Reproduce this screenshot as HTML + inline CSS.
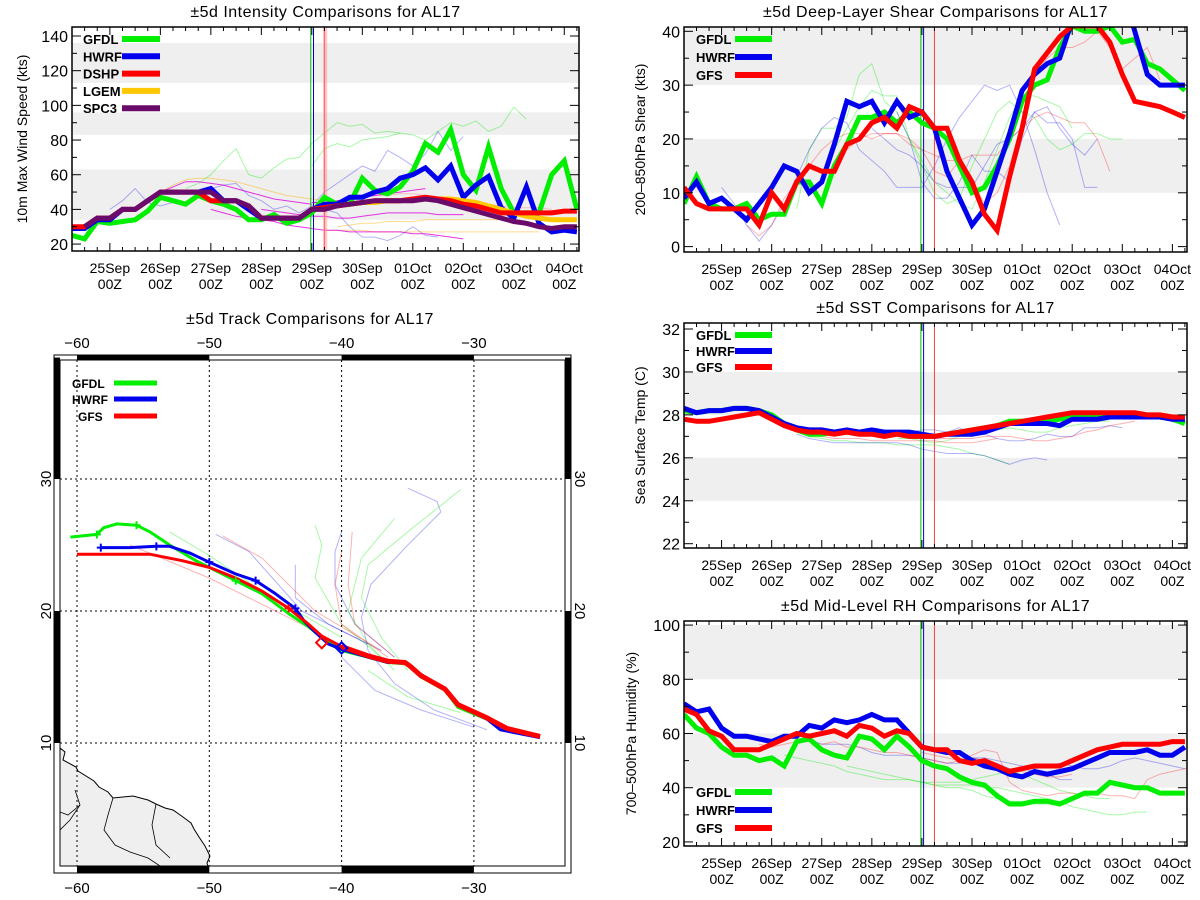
<!DOCTYPE html>
<html><head><meta charset="utf-8"><style>
html,body{margin:0;padding:0;background:#fff;}
svg{display:block;font-family:"Liberation Sans",sans-serif;}
</style></head><body>
<svg id="s" width="1200" height="900" viewBox="0 0 1200 900" xmlns="http://www.w3.org/2000/svg"></svg>
<script>
// ---------- data (6-hourly, first point at t=-18h relative to 25Sep 00Z) ----------
const dayLabels = ["25Sep","26Sep","27Sep","28Sep","29Sep","30Sep","01Oct","02Oct","03Oct","04Oct"];
const intGFDL = [25,23,33,32,33,34,39,47,45,43,48,45,43,40,34,34,37,32,34,38,47,43,43,58,51,49,53,62,78,73,86,60,51,76,52,38,38,38,60,68,40];
const intHWRF = [29,29,34,34,40,40,45,50,50,50,50,52,45,45,40,35,35,35,35,40,43,43,47,47,50,52,58,60,64,57,65,47,54,59,41,35,53,32,27,28,27];
const intDSHP = [30,30,35,35,40,40,45,50,50,50,50,45,45,45,42,35,35,35,35,40,41,42,43,44,45,45,45,46,47,46,45,43,42,40,38,38,38,38,38,39,39];
const intLGEM = [null,null,null,null,null,null,null,null,null,null,null,null,null,null,null,null,null,null,null,40,41,42,43,44,44,45,45,46,46,46,46,45,44,42,40,38,36,35,34,34,34];
const intSPC3 = [null,30,35,35,40,40,45,50,50,50,50,50,45,45,42,35,35,35,35,40,40,42,43,44,45,45,45,45,46,45,43,41,39,37,35,33,32,30,29,30,30];
const shrGFDL = [8,13,8,7,7,8,5,6,6,12,12,8,15,19,24,24,25,23,25,23,22,20,15,10,11,15,20,27,30,31,37,41,40,40,41,38,38.5,34,33,31,29];
const shrHWRF = [9,12,8,9,7,5,8,11,15,14,10,12,19,27,26,27,23,27,24,25,22,14,9,4,7,14,21,29,32,34,35,42,45,45,45,48,40,32,30,30,30];
const shrGFS  = [11,8,7,7,7,7,4,10,7,12,15,14,14,19,20,23,24,22,26,25,22,22,16,12,6,3,13,22,33,36,39,41,41,41,38,32,27,26.5,26,25,24];
const sstGFDL = [28.2,28.1,28.2,28.2,28.3,28.3,28.2,28.0,27.6,27.3,27.1,27.1,27.2,27.2,27.1,27.2,27.1,27.1,27.0,27.0,27.0,27.1,27.2,27.3,27.4,27.5,27.7,27.7,27.7,27.7,27.8,27.9,27.9,27.9,27.9,28.0,28.0,28.0,27.9,27.8,27.6];
const sstHWRF = [28.3,28.1,28.2,28.2,28.3,28.3,28.2,27.9,27.6,27.4,27.3,27.3,27.2,27.3,27.2,27.3,27.2,27.2,27.2,27.1,27.0,27.1,27.1,27.1,27.2,27.4,27.6,27.6,27.6,27.6,27.5,27.8,27.8,27.8,27.9,27.9,27.9,27.9,27.9,27.8,27.8];
const sstGFS  = [27.8,27.7,27.7,27.8,27.9,28.0,28.1,27.8,27.5,27.3,27.2,27.2,27.1,27.2,27.1,27.1,27.0,27.1,27.0,27.0,27.0,27.1,27.2,27.3,27.4,27.5,27.6,27.7,27.8,27.9,28.0,28.1,28.1,28.1,28.1,28.1,28.1,28.0,28.0,27.9,27.9];
const rhGFDL = [67,62,60,55,52,52,50,51,48,57,58,54,52,51,59,58,54,59,55,50,48,47,44,42,41,37,34,34,35,35,34,36,38,38,42,41,40,40,38,38,38];
const rhHWRF = [71,68,69,62,59,59,58,57,59,59,63,62,65,64,65,67,65,65,60,55,54,53,53,50,48,47,45,44,46,45,46,47,49,51,53,53,53,54,52,52,55];
const rhGFS  = [69,67,61,59,54,54,54,56,58,60,59,60,61,59,63,62,59,61,60,55,54,54,50,49,50,48,46,47,48,48,48,50,52,54,55,56,56,56,56,57,57];
// faint earlier-cycle forecasts: [start hour, values...]
const intFaintGreen = [[36,52,55,60,68,75,60,58,64,69,70,78,84,90,88,89,84,85,84],[96,65,75,78,76,80,81,82,84,83,80,85,90,88,91,85,88,99,92]];
const intFaintBlue = [[0,40,45,52,44,42,44,43,50,52,54,55,48,45,40,42,38,42,50,55,60,65,62,74,70,65,72,85,74,82],[102,40,38,30,24,24,22,25,30,25,24]];
const intFaintMagenta = [[24,50,53,56,56,55,54,52,50,48,46,45,44,43],[48,40,38,36,35,34,33,31,30,29,28,28,27,27,27,27,27,26,26,25,24,23],[96,44,44,45,46,47,48,49,50,51,52],[72,40,39,38,37,36,36,35,35,36,37,38,38,38,38,37,37,37]];
const intFaintOrange = [[24,50,54,57,58,58,57,56,54,52,50,48,47,46,45],[108,30,31,32,32,33,33,33,34,34,34,34,34,34,34],[102,28,28,28,28,27,27,27,27,27,27,27,27,27,27,27,27,27,27]];
const intFaintPink = [[96,44,44,45,46,47,48,48,49,49,48,47,46,45,44,43,42,41,41,41,40]];
const shrFaintGreen = [[36,7,18,22,22,24,32,34,27,25,20,16,12,10,8,7,12,18,24,28,28,27,26,22],[48,12,18,22,26,29,28,28,20,15,10,8,9,15,20,25,27,25,24,20,18,19,21,21,20,20]];
const shrFaintBlue = [[0,11,8,4,1,4,8,13,18,22,24,23,18,16,14,11,11,11,15,20,24,27,30,29,30,25,18,10,4],[72,22,20,18,17,15,12,11,11,11,15,19,20,22,25,23,23,20,11,11],[84,25,20,12,9,9,12,17,14,14,12,20,25,26,22,19,17,20]];
const shrFaintRed = [[12,4,2,4,9,12,15,18,20,21,21,20,21,21,20,18,14,13,16,17,17,17,20,22,24,25,24,23,23,20,14],[60,18,20,21,21,21,19,18,17,16,16,12,8,10,15,23,32,35,37,37,38,40,37,33,35,37,31]];
const sstFaintGreen = [[24,28.1,27.7,27.3,27.0,26.9,26.8,26.8,26.7,26.7,26.7,26.6,26.6,26.6,26.6,26.5,26.4,26.2,26.1,25.9,25.7],[84,26.9,26.9,26.8,26.7,26.8,27.0,27.2,27.4,27.3,27.4,27.3,27.2,27.2,27.4,27.5,27.6,27.7,27.7]];
const sstFaintBlue = [[36,27.1,26.9,26.8,26.7,26.7,26.7,26.7,26.7,26.7,26.6,26.4,26.3,26.2,26.2,26.2,26.1,25.9,25.7,25.9,26.0,25.9],[90,27.2,27.3,27.3,27.2,27.4,27.1,27.1,26.9,26.8,26.8,26.9,27.1,27.0,27.0,27.4,27.4,27.5,27.4]];
const sstFaintRed = [[36,27.2,27.1,27.0,26.9,26.9,26.9,26.8,26.8,26.8,26.8,26.8,26.8,26.7,26.7,26.7,26.8,26.9],[102,26.9,26.9,26.9,26.9,27.0,27.0,27.0,26.9,26.8,26.8,26.9,27.0,27.2,27.3,27.5,27.6,27.7]];
const rhFaintGreen = [[30,52,51,50,49,48,46,45,44,43,43,43,42,41,40,40,39,37,36,35,35,34,34],[60,48,47,46,45,44,43,42,41,41,41,41,40,40,39,38,37,36,35,33,32,31,30,30,31,31],[96,42,42,42,42,43,44,45,46,45,43,41,39,38,37,36,36]];
const rhFaintBlue = [[36,60,58,56,56,56,55,53,52,52,52,51,50,49,49,51,50,49,47,47,46,45,43,43],[114,50,51,51,50,49,48,47,48,49,48,47,47,48,50,51,50,49,48,47]];
const rhFaintRed = [[18,56,55,56,57,57,56,57,55,55,54,53,53,52,51,50,49,50,51,50,48,47,46,45,44,44,45],[96,53,52,51,50,52,54,53,42,39,38,37,38,38,37,38,37,37,36,43,45,46,47,48,49,49,48]];
// tracks (lon, lat)
const trkGFSLon  = [-60,-54.5,-52,-50,-48,-46,-44,-42.5,-41.5,-40,-38,-36.5,-35.2,-34.8,-34,-32.2,-31.2,-29,-27.5,-25];
const trkGFSLat  = [24.3,24.3,23.8,23.3,22.5,21.5,20.2,19,18.1,17.3,16.6,16.2,16.1,15.8,15.1,14.1,12.9,11.9,11.1,10.5];
const trkGFDLLon = [-60.5,-58.5,-58,-57,-55.5,-54.5,-53,-51,-48,-46,-44,-42.5,-41.5,-40,-38,-36.5,-35.2,-34.8,-34,-32.2,-31.2,-29,-27.5,-25];
const trkGFDLLat = [25.6,25.8,26.3,26.6,26.5,26,25,23.8,22.3,21.3,19.8,18.8,18,17,16.5,16.1,16.0,15.8,15,14,12.7,11.8,11.1,10.5];
const trkHWRFLon = [-58.2,-56,-54,-53,-51.5,-50,-48,-46.5,-45,-43.5,-42.8,-42,-41,-40,-38,-36.5,-35.2,-34.8,-34,-32.2,-31.2,-29,-28,-25];
const trkHWRFLat = [24.8,24.8,24.9,24.9,24.4,23.7,22.8,22.3,21.3,20.2,19.2,18.4,17.5,17.1,16.5,16.1,16.1,15.8,15.2,14.1,12.9,11.8,11.0,10.4];
const trkFaintBlue = [[[-29,11],[-33,12.5],[-36,14.5],[-38,17],[-38.5,19.5],[-37.8,22],[-35,25],[-32.5,27.5],[-32.8,28.3],[-35,29.3]],[[-36,16.5],[-39,19],[-40.5,22],[-40.5,24.5],[-40,26]],[[-37,17],[-41,19],[-43.5,21],[-43.5,23.5]],[[-38,17.5],[-43,20],[-47,24.5],[-49.5,25.8]],[[-30,11.2],[-34,12.5],[-37.5,14],[-40,16.5]]];
const trkFaintGreen = [[[-35,15.5],[-37,18],[-38.5,21],[-38,23.5],[-35,26],[-31,29.2]],[[-36,15.5],[-38,17.5],[-39.5,20],[-38.5,24],[-36,27]],[[-37,16.5],[-40,19],[-42,22.5],[-41.5,25],[-42,26.5]],[[-40,18],[-46,21.5],[-50,24.2],[-53,26]],[[-31,12.3],[-35,13.5],[-38,15.5]]];
const trkFaintRed = [[[-36,16.5],[-39,19],[-39.5,22],[-39.2,26]],[[-36.5,16.5],[-40,19],[-40.5,22],[-40,24.5]],[[-37,17],[-42,20],[-46,24],[-49,25.7]],[[-42,18.5],[-50,22.5],[-56,25]]];

// ---------- helpers ----------
const NS="http://www.w3.org/2000/svg";
const svg=document.getElementById('s');
function mk(tag,attrs,parent){const e=document.createElementNS(NS,tag);for(const k in attrs)e.setAttribute(k,attrs[k]);(parent||svg).appendChild(e);return e;}
function txt(x,y,s,size,anchor,parent,extra){const e=mk('text',Object.assign({x:x,y:y,'font-size':size,'text-anchor':anchor||'middle',fill:'#000'},extra||{}),parent);e.textContent=s;return e;}
const T0=-18, TSTEP=6, XMIN=-18, XMAX=223;

function panel(cfg){
  const g=mk('g',{});
  
  
  const xs=t=>cfg.x0+(t-XMIN)/(XMAX-XMIN)*(cfg.x1-cfg.x0);
  const ys=v=>cfg.y1-(v-cfg.ymin)/(cfg.ymax-cfg.ymin)*(cfg.y1-cfg.y0);
  const clip='clip-'+cfg.name;
  const cp=mk('clipPath',{id:clip},g);mk('rect',{x:cfg.x0,y:cfg.y0,width:cfg.x1-cfg.x0,height:cfg.y1-cfg.y0},cp);
  cfg.bands.forEach(b=>{const r=mk('rect',{x:cfg.x0,y:ys(b[1]),width:cfg.x1-cfg.x0,height:ys(b[0])-ys(b[1]),fill:'#efefef'},g);
    });
  const pg=mk('g',{'clip-path':'url(#'+clip+')'},g);
  function series(vals,start,color,w,op,name){
    let d='';let pen=false;
    vals.forEach((v,i)=>{if(v==null){pen=false;return;}const t=start+i*TSTEP;d+=(pen?'L':'M')+xs(t).toFixed(1)+' '+ys(v).toFixed(1);pen=true;});
    const p=mk('path',{d:d,fill:'none',stroke:color,'stroke-width':w,'stroke-opacity':op,'stroke-linejoin':'miter'},pg);
    
  }
  cfg.faint.forEach(f=>f.list.forEach(a=>series(a.slice(1),a[0],f.color,1,f.op,'faint-forecast-line')));
  [[95.5,'#00c000'],[96.8,'#0000c0'],[102,'#ff4040']].forEach(v=>{const l=mk('line',{x1:xs(v[0]),x2:xs(v[0]),y1:cfg.y0,y2:cfg.y1,stroke:v[1],'stroke-width':1},pg);
    });
  if(cfg.redBand){const r=mk('rect',{x:xs(101.3),y:cfg.y0,width:xs(103.3)-xs(101.3),height:cfg.y1-cfg.y0,fill:'#ff9090','fill-opacity':0.5},pg);
    }
  cfg.main.forEach(m=>series(m.vals,T0,m.color,5,1,m.name+'-series'));
  const fr=mk('rect',{x:cfg.x0,y:cfg.y0,width:cfg.x1-cfg.x0,height:cfg.y1-cfg.y0,fill:'none',stroke:'#000','stroke-width':1.5},g);
  
  for(let t=-12;t<=XMAX;t+=6){const maj=(t%24===0);const x=xs(t);
    mk('line',{x1:x,x2:x,y1:cfg.y1,y2:cfg.y1-(maj?8:4),stroke:'#000','stroke-width':1},g);
    mk('line',{x1:x,x2:x,y1:cfg.y0,y2:cfg.y0+(maj?8:4),stroke:'#000','stroke-width':1},g);}
  dayLabels.forEach((lab,i)=>{const x=xs(i*24);
    const a=txt(x,cfg.y1+22,lab,14,'middle',g);
    const b=txt(x,cfg.y1+38,'00Z',14,'middle',g);});
  for(let v=cfg.yt0;v<=cfg.ymax;v+=cfg.ystep/2){const y=ys(v);const maj=Math.abs(((v-cfg.yt0)/cfg.ystep)%1)<1e-6;
    mk('line',{x1:cfg.x0,x2:cfg.x0+(maj?9:5),y1:y,y2:y,stroke:'#000'},g);
    mk('line',{x1:cfg.x1,x2:cfg.x1-(maj?9:5),y1:y,y2:y,stroke:'#000'},g);
    if(maj){const l=txt(cfg.x0-4,y+6,String(v),16,'end',g);}}
  const yt=txt(0,0,cfg.ylabel,14,'middle',g,{transform:'translate('+(cfg.ytx)+','+((cfg.y0+cfg.y1)/2)+') rotate(-90)'});
  
  const tt=txt((cfg.x0+cfg.x1)/2,cfg.y0-10,cfg.title,16,'middle',g,{'letter-spacing':'0.5'});
  
  cfg.legend.items.forEach((it,i)=>{const y=cfg.legend.y+i*cfg.legend.dy;
    const lt=txt(cfg.legend.tx,y+5,it[0],13,cfg.legend.anchor||'start',g,{'font-weight':'bold'});
    
    const ll=mk('line',{x1:cfg.legend.lx0,x2:cfg.legend.lx1,y1:y,y2:y,stroke:it[1],'stroke-width':6},g);
    });
}
const G='#00ee00',B='#0000ee',R='#ff0000';
panel({name:'intensity-panel',title:'±5d Intensity Comparisons for AL17',x0:72,x1:579,y0:27,y1:251,ymin:16,ymax:145.2,yt0:20,ystep:20,
  ylabel:'10m Max Wind Speed (kts)',ytx:27,bands:[[34,63],[83,96],[113,136]],redBand:true,
  faint:[{list:intFaintGreen,color:G,op:0.35},{list:intFaintBlue,color:B,op:0.3},{list:intFaintOrange,color:'#ffb000',op:0.45},{list:intFaintPink,color:'#ff6060',op:0.35},{list:intFaintMagenta,color:'#e000e0',op:0.8}],
  main:[{vals:intGFDL,color:G,name:'gfdl'},{vals:intHWRF,color:B,name:'hwrf'},{vals:intLGEM,color:'#ffc800',name:'lgem'},{vals:intDSHP,color:R,name:'dshp'},{vals:intSPC3,color:'#6a0a6a',name:'spc3'}],
  legend:{tx:83,lx0:122,lx1:160,y:39,dy:17.3,items:[['GFDL',G],['HWRF',B],['DSHP',R],['LGEM','#ffc800'],['SPC3','#6a0a6a']]}});
panel({name:'shear-panel',title:'±5d Deep-Layer Shear Comparisons for AL17',x0:684,x1:1187,y0:27,y1:252,ymin:-1,ymax:40.8,yt0:0,ystep:10,
  ylabel:'200–850hPa Shear (kts)',ytx:645,bands:[[10,20],[30,40.8]],
  faint:[{list:shrFaintGreen,color:G,op:0.35},{list:shrFaintBlue,color:B,op:0.3},{list:shrFaintRed,color:R,op:0.3}],
  main:[{vals:shrGFDL,color:G,name:'gfdl'},{vals:shrHWRF,color:B,name:'hwrf'},{vals:shrGFS,color:R,name:'gfs'}],
  legend:{tx:696,lx0:735,lx1:772,y:39,dy:18,items:[['GFDL',G],['HWRF',B],['GFS',R]]}});
panel({name:'sst-panel',title:'±5d SST Comparisons for AL17',x0:684,x1:1187,y0:323,y1:548,ymin:21.8,ymax:32.28,yt0:22,ystep:2,
  ylabel:'Sea Surface Temp (C)',ytx:645,bands:[[24,26],[28,30]],
  faint:[{list:sstFaintGreen,color:G,op:0.35},{list:sstFaintBlue,color:B,op:0.3},{list:sstFaintRed,color:R,op:0.3}],
  main:[{vals:sstGFDL,color:G,name:'gfdl'},{vals:sstHWRF,color:B,name:'hwrf'},{vals:sstGFS,color:R,name:'gfs'}],
  legend:{tx:696,lx0:735,lx1:772,y:335,dy:16,items:[['GFDL',G],['HWRF',B],['GFS',R]]}});
panel({name:'rh-panel',title:'±5d Mid-Level RH Comparisons for AL17',x0:684,x1:1187,y0:621,y1:846,ymin:18.5,ymax:101.5,yt0:20,ystep:20,
  ylabel:'700–500hPa Humidity (%)',ytx:636,bands:[[40,60],[80,100]],
  faint:[{list:rhFaintGreen,color:G,op:0.35},{list:rhFaintBlue,color:B,op:0.3},{list:rhFaintRed,color:R,op:0.3}],
  main:[{vals:rhGFDL,color:G,name:'gfdl'},{vals:rhHWRF,color:B,name:'hwrf'},{vals:rhGFS,color:R,name:'gfs'}],
  legend:{tx:696,lx0:735,lx1:772,y:792,dy:18,items:[['GFDL',G],['HWRF',B],['GFS',R]]}});

// ---------- track map ----------
(function(){
  const g=mk('g',{});
  
  
  const lx=lon=>77+(lon+60)*13.23, ly=lat=>743-(lat-10)*13.2;
  const X0=60,X1=565,Y0=360,Y1=866;
  const cp=mk('clipPath',{id:'mapclip'},g);mk('rect',{x:X0,y:Y0,width:X1-X0,height:Y1-Y0},cp);
  const m=mk('g',{'clip-path':'url(#mapclip)'},g);
  const land=mk('path',{d:'M60,748 L65,752 L63,760 L76,767 L78,771 L94,781 L99,787 L108,792 L113,798 L133,796 L148,800 L156,804 L165,808 L173,810 L183,817 L191,823 L194,829 L199,837 L205,846 L210,856 L207,863 L208,866 L60,866 Z',fill:'#efefef',stroke:'#000','stroke-width':1},m);
  
  mk('path',{d:'M113,798 L108,815 L104,830 L115,845 L130,852 L148,858 L160,866 M156,804 L152,825 L156,845 L170,858 M80,805 L68,815 L60,812',fill:'none',stroke:'#000','stroke-width':0.8},m);
  mk('path',{d:'M60,830 L70,820 L80,805 L75,790',fill:'none',stroke:'#000','stroke-width':0.8},m);
  [-60,-50,-40,-30].forEach(lon=>mk('line',{x1:lx(lon),x2:lx(lon),y1:Y0,y2:Y1,stroke:'#000','stroke-dasharray':'2,3','stroke-width':1},m));
  [10,20,30].forEach(lat=>mk('line',{x1:X0,x2:X1,y1:ly(lat),y2:ly(lat),stroke:'#000','stroke-dasharray':'2,3','stroke-width':1},m));
  function trk(pts,color,w,op,name){const d=pts.map((p,i)=>(i?'L':'M')+lx(p[0]).toFixed(1)+' '+ly(p[1]).toFixed(1)).join('');
    const p=mk('path',{d:d,fill:'none',stroke:color,'stroke-width':w,'stroke-opacity':op,'stroke-linejoin':'round'},m);
    }
  trkFaintBlue.forEach(t=>trk(t,B,1,0.3,'faint-track'));
  trkFaintGreen.forEach(t=>trk(t,G,1,0.35,'faint-track'));
  trkFaintRed.forEach(t=>trk(t,R,1,0.3,'faint-track'));
  const zip=(a,b)=>a.map((v,i)=>[v,b[i]]);
  trk(zip(trkGFDLLon,trkGFDLLat),G,3,1,'gfdl-track');
  trk(zip(trkHWRFLon,trkHWRFLat),B,3,1,'hwrf-track');
  trk(zip(trkGFSLon,trkGFSLat),R,3,1,'gfs-track');
  trk(zip(trkGFSLon.slice(9),trkGFSLat.slice(9)),R,5,1,'best-track');
  [[trkGFDLLon,trkGFDLLat,G,[1,4,8]],[trkHWRFLon,trkHWRFLat,B,[0,2,5,7,9]],[trkGFSLon,trkGFSLat,R,[6]]].forEach(s=>s[3].forEach(i=>{
    const x=lx(s[0][i]),y=ly(s[1][i]);mk('path',{d:`M${x-4},${y}H${x+4}M${x},${y-4}V${y+4}`,stroke:s[2],'stroke-width':2},m);}));
  const dm=mk('rect',{x:lx(-40)-4,y:ly(17.2)-4,width:8,height:8,fill:'none',stroke:B,'stroke-width':2,transform:`rotate(45 ${lx(-40)} ${ly(17.2)})`},m);
  
  mk('rect',{x:lx(-41.5)-4,y:ly(17.6)-4,width:8,height:8,fill:'none',stroke:R,'stroke-width':2,transform:`rotate(45 ${lx(-41.5)} ${ly(17.6)})`},m);
  mk('rect',{x:54,y:355,width:517,height:518,fill:'none',stroke:'#000','stroke-width':1},g);
  mk('rect',{x:X0,y:Y0,width:X1-X0,height:Y1-Y0,fill:'none',stroke:'#000','stroke-width':1},g);
  [[-60,-50],[-40,-30]].forEach(s=>{mk('rect',{x:lx(s[0]),y:355,width:lx(s[1])-lx(s[0]),height:5,fill:'#000'},g);mk('rect',{x:lx(s[0]),y:866,width:lx(s[1])-lx(s[0]),height:7,fill:'#000'},g);});
  [[30,39.2],[10,20]].forEach(s=>{mk('rect',{x:54,y:ly(s[1]),width:6,height:ly(s[0])-ly(s[1]),fill:'#000'},g);mk('rect',{x:565,y:ly(s[1]),width:6,height:ly(s[0])-ly(s[1]),fill:'#000'},g);});
  [-60,-50,-40,-30].forEach(lon=>{const a=txt(lx(lon),348,'−'+Math.abs(lon),15,'middle',g);
    const b=txt(lx(lon),893,'−'+Math.abs(lon),15,'middle',g);});
  [10,20,30].forEach(lat=>{const a=txt(0,0,String(lat),15,'middle',g,{transform:`translate(51,${ly(lat)}) rotate(-90)`});
    const b=txt(0,0,String(lat),15,'middle',g,{transform:`translate(575,${ly(lat)}) rotate(90)`});});
  const tt=txt(310,324,'±5d Track Comparisons for AL17',16,'middle',g,{'letter-spacing':'0.5'});
  
  [['GFDL',G,383],['HWRF',B,399],['GFS',R,416]].forEach(it=>{const t=txt(it[0]==='GFS'?78:72,it[2]+5,it[0],12,'start',g,{'font-weight':'bold'});
    
    const l=mk('line',{x1:114,x2:157,y1:it[2],y2:it[2],stroke:it[1],'stroke-width':5},g);
    });
})();
</script>
</body></html>
